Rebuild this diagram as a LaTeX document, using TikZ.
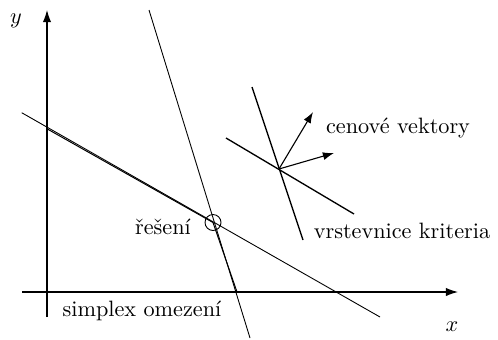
\documentclass[tikz,border=0pt]{standalone}
\usetikzlibrary{arrows.meta}
\begin{document}
\begin{tikzpicture}[x=0.45pt,y=-0.45pt,
    axis/.style={line width=0.5pt, -{Latex[length=5.5pt,width=3.8pt]}},
    vec/.style={line width=0.5pt, -{Latex[length=5pt,width=3.6pt]}},
    level/.style={line width=0.6pt},
    every node/.style={align=center}]
  \useasboundingbox (0,0) rectangle (498,339);
  % axes
  \draw[axis] (47,317) -- (47,10);
  \draw[axis] (22,292) -- (458,292);
  \node (ylab) at (16,21) {$y$};
  \node (xlab) at (452,327) {$x$};

  % constraint lines
  \draw[line width=0.4pt] (21.7,112.7) -- (380,317);
  \draw[line width=0.4pt] (149,10) -- (250,338);
  % simplex boundary
  \coordinate (top) at (47,128.8);
  \coordinate (opt) at (213,222.5);
  \coordinate (bot) at (237,292);
  \draw[line width=0.45pt] (top) -- (opt) -- (bot);
  \draw[line width=0.4pt] (opt) circle (8);

  % level lines and price vectors
  \coordinate (c) at (279,169);
  \draw[level] (252,87) -- (303,240);
  \draw[level] (226,138) -- (354,214);
  \coordinate (v1) at (313,112);
  \coordinate (v2) at (334,153);
  \draw[vec] (c) -- (v1);
  \draw[vec] (c) -- (v2);

  \node (resl) at (163,227) {řešení};
  \node (simpl) at (142,311) {simplex omezení};
  \node (cen) at (398,128) {cenové vektory};
  \node (vrst) at (402,231) {vrstevnice kriteria};
\end{tikzpicture}
\end{document}
